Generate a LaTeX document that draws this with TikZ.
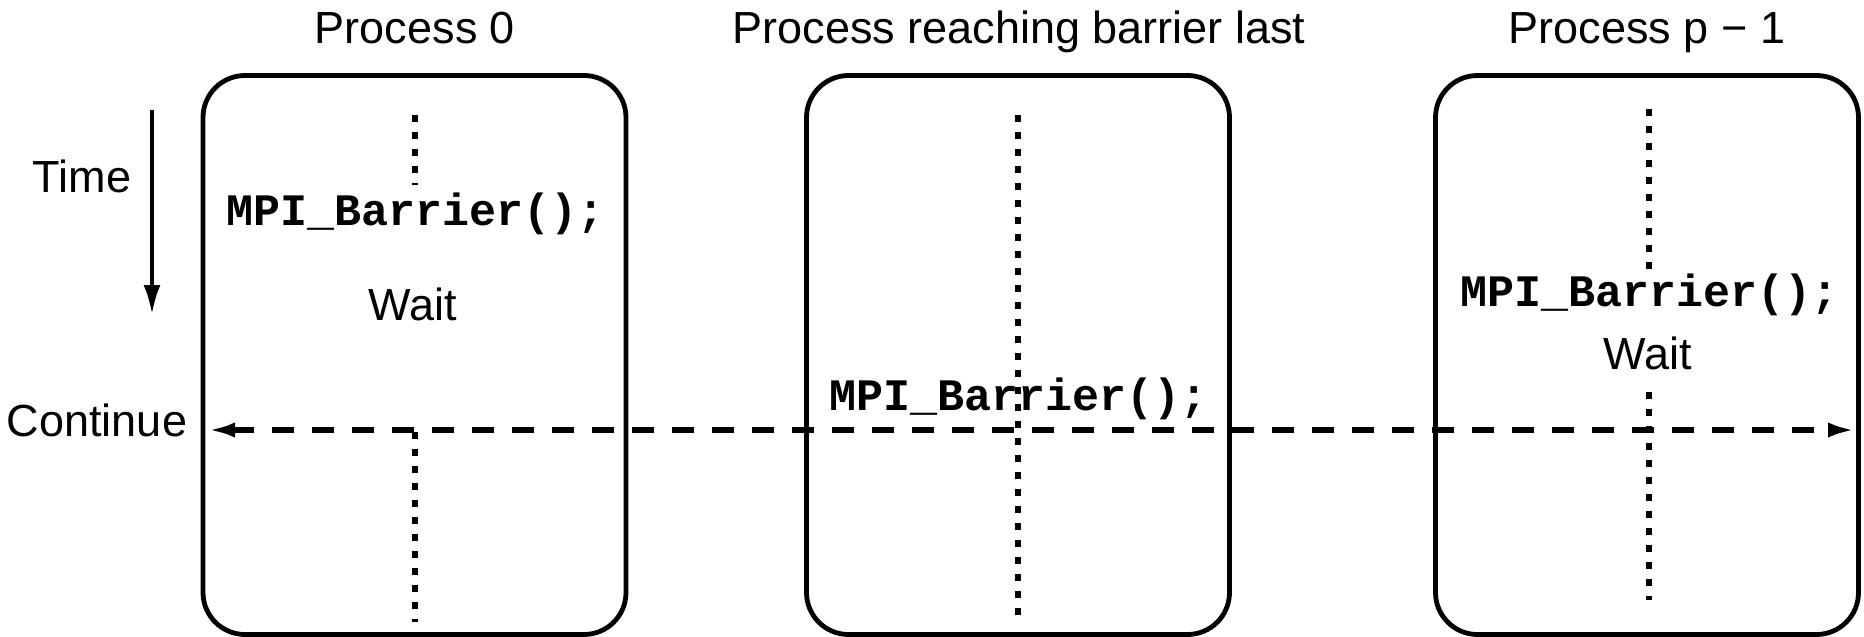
\documentclass[tikz,border=0pt]{standalone}
\usepackage{fontspec}
\setmainfont{Liberation Sans}
\newfontfamily\codefont{Liberation Mono}
\usetikzlibrary{arrows.meta}
\begin{document}
\begin{tikzpicture}[x=1pt,y=-1pt,
  procbox/.style={draw, line width=4.8pt, rounded corners=42pt, minimum width=423pt, minimum height=559pt, inner sep=0pt},
  lbl/.style={font=\fontsize{45}{52}\selectfont, inner sep=0pt, anchor=base},
  code/.style={font=\codefont\bfseries\fontsize{45}{52}\selectfont, inner sep=0pt, anchor=base},
  dots/.style={line width=5.5pt, dash pattern=on 6.5pt off 10.5pt},
  contline/.style={line width=5.5pt, dash pattern=on 22pt off 18pt, {Latex[length=28pt,width=15pt]}-{Latex[length=28pt,width=15pt]}},
  timearrow/.style={line width=4.5pt, -{Latex[length=30pt,width=17pt]}}]
\useasboundingbox (0,0) rectangle (1864,637);

% boxes
\node[procbox] (b1) at (414.5,355) {};
\node[procbox] (b2) at (1018,355) {};
\node[procbox] (b3) at (1647,355) {};

% titles
\node[lbl] (t1) at (415,43) {Process 0};
\node[lbl] (t2) at (1019,43) {Process reaching barrier last};
\node[lbl] (t3) at (1647,43) {Process p − 1};

% time
\node[lbl] (time) at (82,192) {Time};
\coordinate (ttop) at (152,110);
\coordinate (tbot) at (152,315);
\draw[timearrow] (ttop) -- (tbot);

\node[lbl] (cont) at (97,436) {Continue};

% dotted time lines
\coordinate (d1a) at (415,115);
\coordinate (d1b) at (415,185);
\coordinate (d1c) at (415,432);
\coordinate (d1d) at (415,622);
\draw[dots] (d1a) -- (d1b);
\draw[dots] (d1c) -- (d1d);

\coordinate (d2a) at (1018,115);
\coordinate (d2b) at (1018,618);
\draw[dots] (d2a) -- (d2b);

\coordinate (d3a) at (1649,109);
\coordinate (d3b) at (1649,273);
\coordinate (d3c) at (1649,392);
\coordinate (d3d) at (1649,600);
\draw[dots] (d3a) -- (d3b);
\draw[dots] (d3c) -- (d3d);

% code and wait labels
\node[code] (c1) at (416,225) {MPI\_Barrier();};
\node[lbl] (w1) at (413,320) {Wait};
\node[code] (c2) at (1019,410) {MPI\_Barrier();};
\node[code] (c3) at (1650,306) {MPI\_Barrier();};
\node[lbl] (w3) at (1648,369) {Wait};

% continue line
\coordinate (cl) at (207,430);
\coordinate (cr) at (1856,430);
\draw[contline] (cl) -- (cr);
\end{tikzpicture}
\end{document}
